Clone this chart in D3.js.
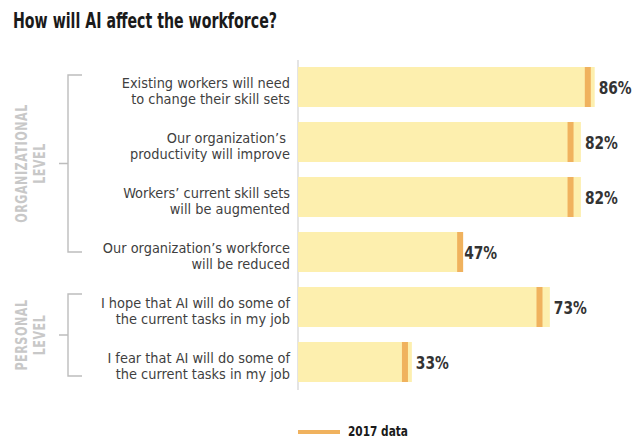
<!DOCTYPE html>
<html>
<head>
<meta charset="utf-8">
<script src="https://cdn.jsdelivr.net/npm/d3@7"></script>
<style>
	body { margin: 0; background: #fff; }
	svg { display: block; font-family: 'Liberation Sans Narrow', 'DejaVu Sans Condensed', 'Roboto', sans-serif; }
</style>
</head>
<body>
<script>
// Chart data
const categories = [
	['Existing workers will need', 'to change their skill sets'],
	['Our organization’s ', 'productivity will improve'],
	['Workers’ current skill sets', 'will be augmented'],
	['Our organization’s workforce', 'will be reduced'],
	['I hope that AI will do some of', 'the current tasks in my job'],
	['I fear that AI will do some of', 'the current tasks in my job']
];
const values2018 = [86, 82, 82, 47, 73, 33];
const values2017 = [84, 79, 79, 47, 70, 31];
const groupLabels = [
	['ORGANIZATIONAL', 'LEVEL'],
	['PERSONAL', 'LEVEL']
];
const groupRows = [
	[0, 3],
	[4, 5]
];

const width = 642;
const height = 437;

const svg = d3.select('body').append('svg').attr('width', width).attr('height', height);

// Title (squeezed to the condensed width of the original)
svg
	.append('text')
	.attr('x', 13)
	.attr('y', 28)
	.attr('font-size', 20.5)
	.attr('font-weight', 'bold')
	.attr('fill', '#1a1a1a')
	.attr('textLength', 264)
	.attr('lengthAdjust', 'spacingAndGlyphs')
	.text('How will AI affect the workforce?');

const x0 = 298;
const x = d3.scaleLinear().domain([0, 100]).range([0, 345]);
const y = d3
	.scaleBand()
	.domain(d3.range(categories.length))
	.range([67, 382])
	.paddingInner(15 / 55)
	.paddingOuter(0);

// Light vertical axis line
svg
	.append('line')
	.attr('x1', x0)
	.attr('x2', x0)
	.attr('y1', 60)
	.attr('y2', 390)
	.attr('stroke', '#e4e4e4')
	.attr('stroke-width', 2);

const chart = svg.append('g').attr('transform', `translate(${x0},0)`);

// Bars
chart
	.selectAll('.bar')
	.data(values2018)
	.enter()
	.append('rect')
	.attr('class', 'bar')
	.attr('x', 0)
	.attr('y', (d, i) => y(i))
	.attr('width', (d) => x(d))
	.attr('height', y.bandwidth())
	.attr('fill', '#fdefae');

// 2017 markers
chart
	.selectAll('.mark')
	.data(values2017)
	.enter()
	.append('rect')
	.attr('class', 'mark')
	.attr('x', (d) => x(d) - 3)
	.attr('y', (d, i) => y(i))
	.attr('width', 6)
	.attr('height', y.bandwidth())
	.attr('fill', '#f0b25e');

// Value labels
chart
	.selectAll('.value')
	.data(values2018)
	.enter()
	.append('text')
	.attr('class', 'value')
	.attr('x', (d) => x(d) + 4)
	.attr('y', (d, i) => y(i) + y.bandwidth() / 2 + 7)
	.attr('font-size', 18)
	.attr('font-weight', 'bold')
	.attr('fill', '#333')
	.attr('textLength', 33)
	.attr('lengthAdjust', 'spacingAndGlyphs')
	.text((d) => d + '%');

// Category labels (two lines each)
const cat = svg
	.selectAll('.cat')
	.data(categories)
	.enter()
	.append('text')
	.attr('class', 'cat')
	.attr('text-anchor', 'end')
	.attr('font-size', 14.4)
	.attr('fill', '#3f3f3f');

cat
	.selectAll('tspan')
	.data((d, i) => d.map((t, j) => ({t, j, i})))
	.enter()
	.append('tspan')
	.attr('x', 290)
	.attr('y', (d) => y(d.i) + y.bandwidth() / 2 + 0.5 + d.j * 16)
	.text((d) => d.t);

// Group brackets and labels
const bx = 68;
const bracketEnds = [
	[8, 20],
	[7, 34]
];
groupRows.forEach((rows, k) => {
	const top = y(rows[0]) + bracketEnds[k][0];
	const bottom = y(rows[1]) + bracketEnds[k][1];
	const mid = (top + bottom) / 2;
	svg
		.append('path')
		.attr('d', `M${bx + 14},${top}H${bx}V${bottom}H${bx + 14}M${bx},${mid}H${bx - 9}`)
		.attr('fill', 'none')
		.attr('stroke', '#bdbdbd')
		.attr('stroke-width', 1.4);

	const label = svg
		.append('text')
		.attr('transform', `translate(27,${mid}) rotate(-90) scale(0.83,1)`)
		.attr('text-anchor', 'middle')
		.attr('font-size', 15)
		.attr('font-weight', 'bold')
		.attr('letter-spacing', 0.6)
		.attr('fill', '#c8c8c8');
	groupLabels[k].forEach((t, j) => {
		label
			.append('tspan')
			.attr('x', 0)
			.attr('y', j * 18.5)
			.text(t);
	});
});

// Legend
svg
	.append('line')
	.attr('x1', 298)
	.attr('x2', 340)
	.attr('y1', 432)
	.attr('y2', 432)
	.attr('stroke', '#f0b25e')
	.attr('stroke-width', 4);

svg
	.append('text')
	.attr('x', 348)
	.attr('y', 435.5)
	.attr('font-size', 13.5)
	.attr('font-weight', 'bold')
	.attr('fill', '#1a1a1a')
	.attr('textLength', 60)
	.attr('lengthAdjust', 'spacingAndGlyphs')
	.text('2017 data');
</script>
</body>
</html>
